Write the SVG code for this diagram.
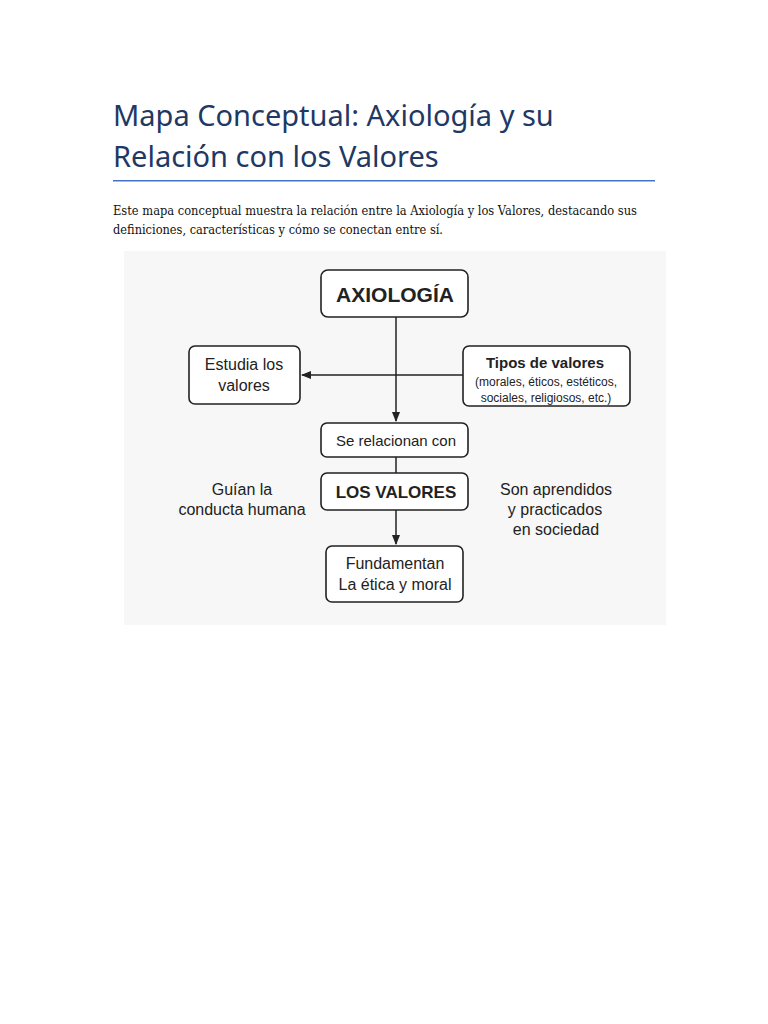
<svg xmlns="http://www.w3.org/2000/svg" width="768" height="1024" viewBox="0 0 768 1024">
<style>
.t{font-family:"Noto Sans","Open Sans",sans-serif;fill:#1f3864;font-size:29px}
.p{font-family:"DejaVu Serif","Liberation Serif",serif;fill:#111;font-size:12px}
.b{fill:#fff;stroke:#222;stroke-width:1.6}
.n{font-family:"Liberation Sans",Arial,sans-serif;fill:#222;text-anchor:middle}
.c{stroke:#222;stroke-width:1.5;fill:none}
</style>
<defs><marker id="a" viewBox="0 0 10 10" refX="9" refY="5" markerWidth="7" markerHeight="7" orient="auto"><path d="M0,1L10,5L0,9z" fill="#222"/></marker></defs>
<rect width="768" height="1024" fill="#fff"/>
<text class="t" x="113" y="126">Mapa Conceptual: Axiología y su</text>
<text class="t" x="113" y="167">Relación con los Valores</text>
<rect x="113" y="180" width="542" height="1.5" fill="#4472c4"/>
<text class="p" x="113" y="215" textLength="524" lengthAdjust="spacingAndGlyphs">Este mapa conceptual muestra la relación entre la Axiología y los Valores, destacando sus</text>
<text class="p" x="113" y="234" textLength="330" lengthAdjust="spacingAndGlyphs">definiciones, características y cómo se conectan entre sí.</text>
<rect x="124" y="251" width="542" height="374" fill="#f7f7f7"/>
<g id="connectors">
<path class="c" d="M396,317V421" marker-end="url(#a)"/>
<path class="c" d="M463,375H302" marker-end="url(#a)"/>
<path class="c" d="M396,457V473"/>
<path class="c" d="M396,510V544" marker-end="url(#a)"/>
</g>
<g id="axiologia"><rect class="b" x="321" y="270" width="147" height="47" rx="7"/><text class="n" x="395" y="302" font-size="21" font-weight="bold">AXIOLOGÍA</text></g>
<g id="estudia"><rect class="b" x="189" y="346" width="111" height="58" rx="6"/><text class="n" x="244" y="370" font-size="16">Estudia los</text><text class="n" x="244" y="391" font-size="16">valores</text></g>
<g id="tipos"><rect class="b" x="463" y="346" width="167" height="60" rx="6"/><text class="n" x="545" y="368" font-size="15" font-weight="bold">Tipos de valores</text><text class="n" x="546" y="386" font-size="12">(morales, éticos, estéticos,</text><text class="n" x="546" y="402" font-size="12">sociales, religiosos, etc.)</text></g>
<g id="relacionan"><rect class="b" x="321" y="423" width="147" height="34" rx="6"/><text class="n" x="396" y="446" font-size="15">Se relacionan con</text></g>
<g id="valores"><rect class="b" x="321" y="473" width="147" height="37" rx="6"/><text class="n" x="396" y="498" font-size="17" font-weight="bold">LOS VALORES</text></g>
<g id="fundamentan"><rect class="b" x="326" y="546" width="137" height="56" rx="6"/><text class="n" x="395" y="569" font-size="16">Fundamentan</text><text class="n" x="395" y="590" font-size="16">La ética y moral</text></g>
<g id="guian"><text class="n" x="242" y="495" font-size="16">Guían la</text><text class="n" x="242" y="515" font-size="16">conducta humana</text></g>
<g id="son"><text class="n" x="556" y="495" font-size="16">Son aprendidos</text><text class="n" x="555" y="515" font-size="16">y practicados</text><text class="n" x="556" y="535" font-size="16">en sociedad</text></g>
</svg>
